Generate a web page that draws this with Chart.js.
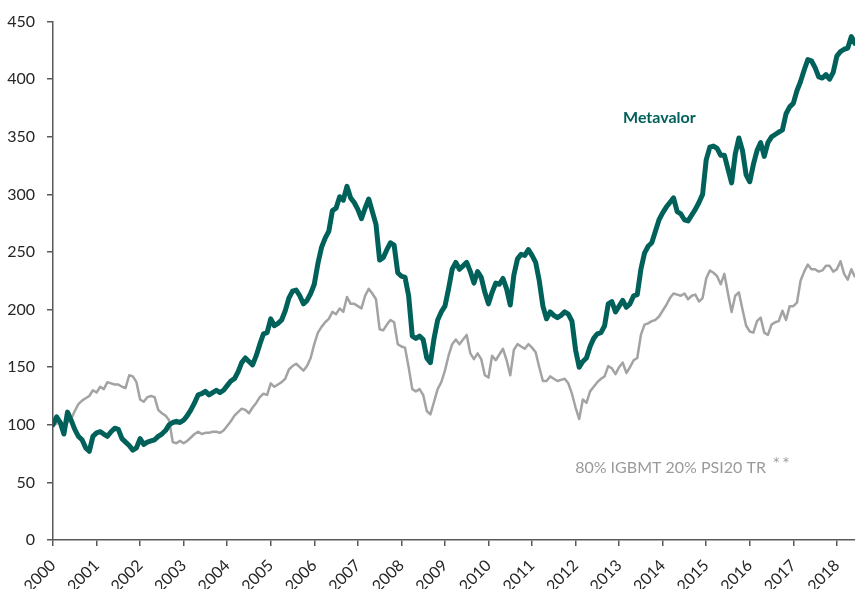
<!DOCTYPE html>
<html>
<head>
<meta charset="utf-8">
<script src="https://cdn.jsdelivr.net/npm/chart.js@4.4.1/dist/chart.umd.min.js"></script>
<style>
  body { margin: 0; background: #fff; }
  canvas { display: block; }
</style>
</head>
<body>
<canvas id="grafico" width="855" height="589"></canvas>
<script>
// dados mensais, jan 2000 ate jun 2018
const anoInicio = 2000;
const yTicks = [0, 50, 100, 150, 200, 250, 300, 350, 400, 450];
const nomeFundo = 'Metavalor';
const nomeIndice = '80% IGBMT 20% PSI20 TR';

const metavalor = [
  100,107,102,92,111,104,96,90,87,80,77,90,
  93,94,92,90,94,97,96,88,85,82,78,80,
  88,83,85,86,87,90,92,95,100,102,103,102,
  104,108,113,119,126,127,129,126,128,130,128,130,
  134,138,140,146,154,158,155,152,160,170,179,180,
  192,186,188,191,199,210,216,217,212,205,208,214,
  222,240,254,262,268,286,288,298,295,307,297,293,
  287,279,288,296,285,274,243,245,252,258,256,232,
  229,228,212,177,175,177,174,158,154,175,191,198,
  203,218,235,241,235,238,241,233,223,233,228,215,
  205,215,223,222,227,218,204,230,244,248,247,252,
  247,241,225,203,192,198,195,193,195,198,196,190,
  165,150,155,158,168,175,179,180,186,205,207,198,
  203,208,202,205,212,213,235,249,255,258,268,278,
  284,289,293,297,285,283,278,277,282,287,293,300,
  330,341,342,340,334,334,322,310,335,349,338,317,
  311,326,338,345,333,345,350,352,354,356,370,376,
  379,390,398,408,417,416,410,402,401,404,400,406,
  420,424,426,427,437,431
];

const indice = [
  100,101,103,100,102,105,112,118,121,123,125,130,
  128,133,131,137,136,135,135,133,132,143,142,137,
  122,120,124,125,124,113,110,108,104,85,84,86,
  84,86,89,92,94,92,93,93,94,94,93,95,
  99,103,108,111,114,113,110,115,119,124,127,126,
  136,133,135,137,140,148,151,153,150,147,151,158,
  170,180,185,189,192,198,196,201,198,211,205,205,
  203,201,212,218,214,209,183,182,187,191,189,170,
  168,167,150,131,129,131,126,112,109,120,131,137,
  147,160,170,174,170,174,178,162,157,162,157,143,
  141,160,156,161,166,156,143,165,170,168,166,170,
  167,163,150,138,138,142,140,138,139,140,136,127,
  115,105,122,119,129,133,137,140,142,151,149,144,
  150,154,145,150,156,158,178,187,188,190,191,194,
  199,204,210,214,213,212,214,209,212,213,207,210,
  227,234,232,229,222,231,214,198,212,215,200,186,
  181,180,190,193,180,178,187,189,190,199,191,203,
  203,206,225,233,239,235,235,233,234,238,238,233,
  235,242,231,226,235,228
];

const corFundo = '#00615a';
const corIndice = '#a3a3a3';
const corEixo = '#595959';

function pontos(valores) {
  return valores.map((v, i) => ({ x: anoInicio + i / 12, y: v }));
}

// textos dentro do grafico
const legendas = {
  id: 'legendas',
  afterDatasetsDraw(chart) {
    const ctx = chart.ctx;
    const x = chart.scales.x;
    const y = chart.scales.y;
    ctx.save();
    ctx.textAlign = 'left';
    ctx.textBaseline = 'alphabetic';
    ctx.fillStyle = corFundo;
    ctx.font = 'bold 16px Lato';
    ctx.fillText(nomeFundo, x.getPixelForValue(2013.09), y.getPixelForValue(362));
    ctx.fillStyle = '#9a9a9a';
    ctx.font = '16px Lato';
    ctx.fillText(nomeIndice, x.getPixelForValue(2011.99), y.getPixelForValue(58.5));
    ctx.font = '12px "DejaVu Sans"';
    ctx.fillText('* *', x.getPixelForValue(2016.54), y.getPixelForValue(64));
    ctx.restore();
  }
};

new Chart(document.getElementById('grafico').getContext('2d'), {
  type: 'line',
  data: {
    datasets: [
      {
        label: nomeFundo,
        data: pontos(metavalor),
        borderColor: corFundo,
        borderWidth: 5,
        pointRadius: 0,
        borderJoinStyle: 'round',
        borderCapStyle: 'round',
        tension: 0
      },
      {
        label: nomeIndice,
        data: pontos(indice),
        borderColor: corIndice,
        borderWidth: 2.5,
        pointRadius: 0,
        borderJoinStyle: 'round',
        tension: 0
      }
    ]
  },
  options: {
    responsive: false,
    animation: false,
    layout: { padding: { top: 17, right: 0, left: 0, bottom: 0 } },
    plugins: {
      legend: { display: false },
      tooltip: { enabled: false }
    },
    scales: {
      x: {
        type: 'linear',
        min: anoInicio,
        max: anoInicio + (metavalor.length - 1) / 12,
        afterFit: s => { s.height = 49; s.paddingLeft = 0; s.paddingRight = 0; },
        border: { display: true, color: corEixo, width: 1.5 },
        grid: { drawOnChartArea: false, color: corEixo, tickLength: 6, lineWidth: 1.5 },
        ticks: {
          stepSize: 1,
          includeBounds: false,
          autoSkip: false,
          minRotation: 45,
          maxRotation: 45,
          padding: 10,
          color: '#262626',
          font: { family: 'Lato', size: 16 },
          callback: v => String(v)
        }
      },
      y: {
        min: 0,
        max: 450,
        afterFit: s => { s.width = 53; },
        afterBuildTicks: s => { s.ticks = yTicks.map(v => ({ value: v })); },
        border: { display: true, color: corEixo, width: 1.5 },
        grid: { drawOnChartArea: false, color: corEixo, tickLength: 6, lineWidth: 1.5 },
        ticks: {
          padding: 12,
          color: '#262626',
          font: { family: 'Lato', size: 16 }
        }
      }
    }
  },
  plugins: [legendas]
});
</script>
</body>
</html>
